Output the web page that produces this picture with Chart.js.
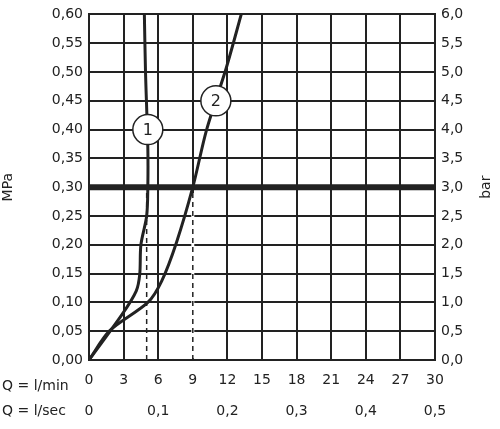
<!DOCTYPE html>
<html>
<head>
<script src="https://cdn.jsdelivr.net/npm/chart.js@4"></script>
<style>body{margin:0;background:#fff}#wrap{width:500px;height:429px}</style>
</head>
<body>
<div id="wrap"><canvas id="canvas"></canvas></div>
<script>
var curve1X = [0, 2.9, 4.1, 4.4, 4.5, 5.0, 5.1, 5.1, 4.9, 4.8];
var curve1Y = [0, 0.08, 0.12, 0.149, 0.20, 0.25, 0.30, 0.37, 0.50, 0.60];
var curve2X = [0, 1.8, 5.1, 6.3, 7.6, 9.0, 10.2, 11.9, 13.2];
var curve2Y = [0, 0.051, 0.10, 0.137, 0.205, 0.30, 0.40, 0.507, 0.60];
var workPressure = 0.30;
var dashX = [5.0, 9.0];
var labelPos = [[5.1, 0.40, '1'], [11.0, 0.45, '2']];
var secTicks = [0, 0.1, 0.2, 0.3, 0.4, 0.5];

var ink = '#222';
var font = {family: 'DejaVu Sans', size: 14};
function pts(xs, ys) { return xs.map(function(x, i) { return {x: x, y: ys[i]}; }); }
function comma(v, d) { return v.toFixed(d).replace('.', ','); }

var datasets = [
    {data: [{x: 0, y: workPressure}, {x: 30, y: workPressure}], borderWidth: 6, order: 1},
    {data: pts(curve1X, curve1Y), borderWidth: 3, tension: 0.3, order: 1},
    {data: pts(curve2X, curve2Y), borderWidth: 3, tension: 0.3, order: 1}
];
// blank out the grid line under the dashed x=9 marker
datasets.push({data: [{x: 9, y: 0.003}, {x: 9, y: workPressure - 0.01}], borderWidth: 3, borderColor: '#fff', order: 5});
dashX.forEach(function(x) {
    datasets.push({data: [{x: x, y: 0}, {x: x, y: workPressure}], borderWidth: 1.5, borderDash: [5, 4], order: 2});
});
datasets.forEach(function(d) { if (!d.borderColor) d.borderColor = ink; d.pointRadius = 0; d.showLine = true; d.fill = false; });

var extras = {
    id: 'extras',
    afterDatasetsDraw: function(chart) {
        var c = chart.ctx, x = chart.scales.x, y = chart.scales.y;
        c.save();
        labelPos.forEach(function(p) {
            var px = x.getPixelForValue(p[0]), py = y.getPixelForValue(p[1]);
            c.beginPath(); c.arc(px, py, 15, 0, Math.PI * 2);
            c.fillStyle = '#fff'; c.fill();
            c.lineWidth = 1.5; c.strokeStyle = ink; c.stroke();
            c.fillStyle = ink; c.font = '16px DejaVu Sans';
            c.textAlign = 'center'; c.textBaseline = 'middle';
            c.fillText(p[2], px, py + 1);
        });
        c.font = '14px DejaVu Sans'; c.textBaseline = 'middle';
        secTicks.forEach(function(s) {
            c.textAlign = 'center';
            c.fillText(s === 0 ? '0' : comma(s, 1), x.getPixelForValue(s * 60), 411);
        });
        c.textAlign = 'left';
        c.fillText('Q = l/min', 2, 386);
        c.fillText('Q = l/sec', 2, 411);
        c.translate(486, (y.top + y.bottom) / 2);
        c.rotate(-Math.PI / 2);
        c.textAlign = 'center';
        c.fillText('bar', 0, 0);
        c.restore();
    }
};

new Chart(document.getElementById('canvas').getContext('2d'), {
    type: 'scatter',
    data: {datasets: datasets},
    options: {
        responsive: true, maintainAspectRatio: false, animation: false,
        layout: {padding: {top: 4, right: 0, left: 0, bottom: 0}},
        plugins: {legend: {display: false}, tooltip: {enabled: false}},
        scales: {
            x: {
                type: 'linear', min: 0, max: 30,
                afterFit: function(s) { s.height = 69; },
                ticks: {stepSize: 3, color: ink, font: font, padding: 12},
                grid: {color: ink, lineWidth: 2, drawTicks: false},
                border: {color: ink, width: 2}
            },
            y: {
                min: 0, max: 0.6,
                afterFit: function(s) { s.width = 89; },
                ticks: {stepSize: 0.05, color: ink, font: font, padding: 6, callback: function(v) { return comma(v, 2); }},
                grid: {color: ink, lineWidth: 2, drawTicks: false},
                border: {color: ink, width: 2},
                title: {display: true, text: 'MPa', color: ink, font: font, padding: 0}
            },
            y2: {
                position: 'right', min: 0, max: 6,
                afterFit: function(s) { s.width = 65; },
                ticks: {stepSize: 0.5, color: ink, font: font, padding: 6, callback: function(v) { return comma(v, 1); }},
                grid: {display: false, drawTicks: false},
                border: {color: ink, width: 2}
            }
        }
    },
    plugins: [extras]
});
</script>
</body>
</html>
